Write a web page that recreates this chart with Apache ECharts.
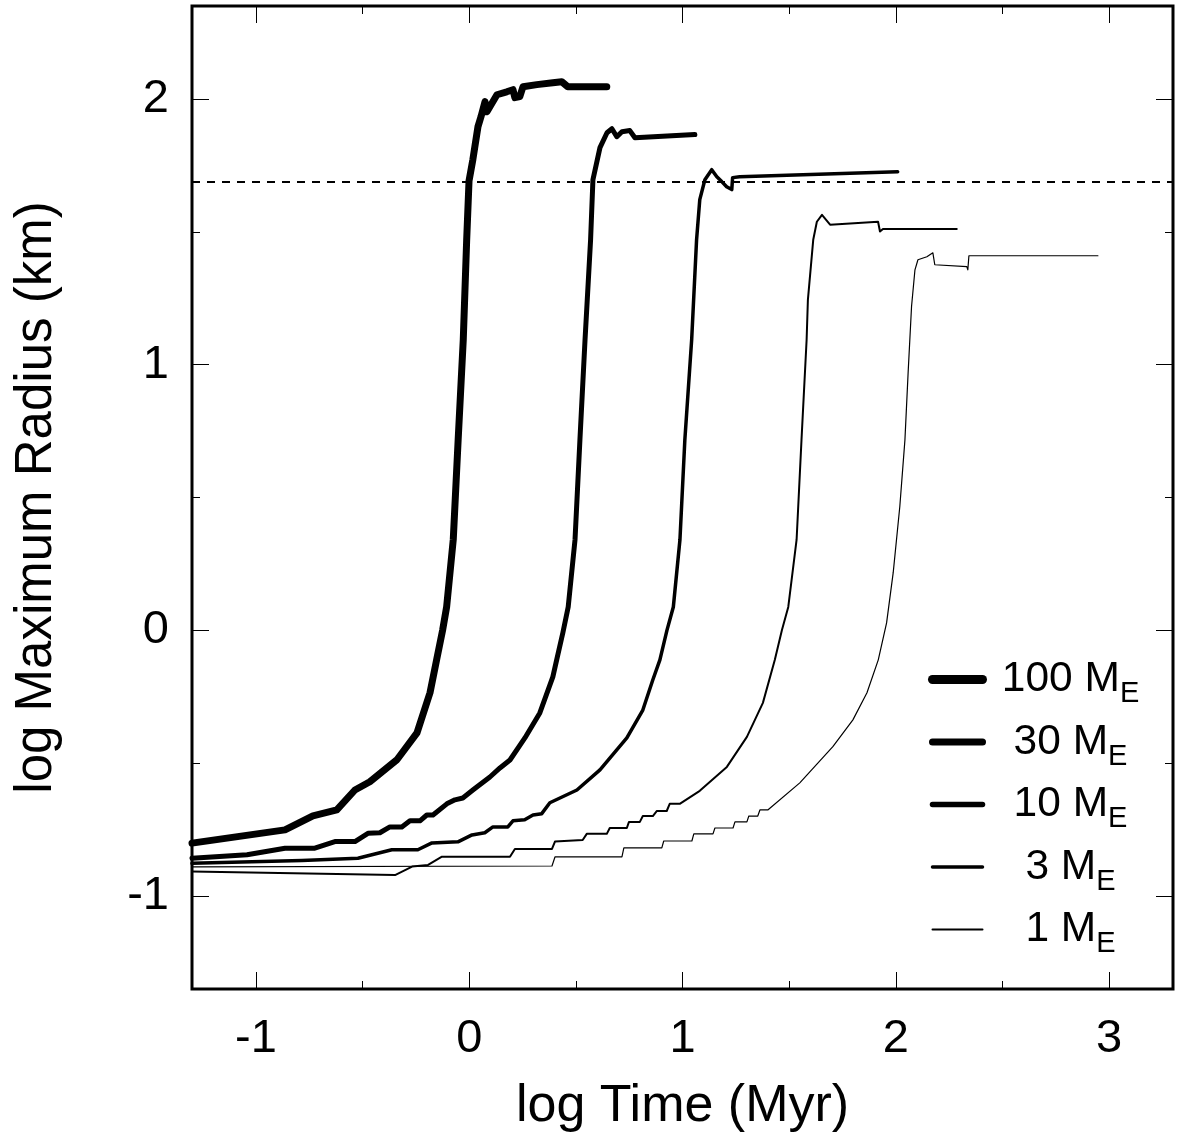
<!DOCTYPE html>
<html>
<head>
<meta charset="utf-8">
<script src="https://cdn.jsdelivr.net/npm/echarts@6/dist/echarts.min.js"></script>
<style>
html,body{margin:0;padding:0;background:#fff;}
#chart{width:1177px;height:1140px;}
</style>
</head>
<body>
<div id="chart"></div>
<script>
// ---- data (log Time [Myr], log Maximum Radius [km]) ----
const massLabels = ['100', '30', '10', '3', '1'];
const xMajorTicks = [-1, 0, 1, 2, 3];
const xMinorTicks = [-0.5, 0.5, 1.5, 2.5];
const yMajorTicks = [-1, 0, 1, 2];
const yMinorTicks = [-0.5, 0.5, 1.5];
const thresholdY = [1.69];

const me100 = [
[-1.300,-0.801],[-0.864,-0.751],[-0.733,-0.698],[-0.621,-0.676],[-0.536,-0.601],[-0.466,-0.570],[-0.339,-0.487],[-0.245,-0.386],[-0.184,-0.235],[-0.153,-0.111],[-0.125,0.000],[-0.106,0.088],[-0.075,0.341],[-0.052,0.717],[-0.028,1.094],[-0.012,1.470],[-0.001,1.692],[0.017,1.772],[0.041,1.896],[0.055,1.933],[0.074,1.990],[0.083,1.952],[0.130,2.016],[0.176,2.027],[0.205,2.035],[0.214,2.005],[0.237,2.009],[0.252,2.046],[0.317,2.054],[0.392,2.061],[0.434,2.065],[0.462,2.046],[0.519,2.046],[0.645,2.046]
];
const me30 = [
[-1.300,-0.858],[-1.042,-0.845],[-0.864,-0.820],[-0.724,-0.820],[-0.630,-0.795],[-0.536,-0.795],[-0.475,-0.764],[-0.419,-0.762],[-0.372,-0.740],[-0.316,-0.740],[-0.278,-0.717],[-0.231,-0.717],[-0.199,-0.695],[-0.170,-0.695],[-0.105,-0.653],[-0.067,-0.638],[-0.030,-0.631],[0.017,-0.601],[0.097,-0.552],[0.144,-0.518],[0.191,-0.488],[0.261,-0.405],[0.331,-0.311],[0.392,-0.175],[0.410,-0.111],[0.439,-0.009],[0.464,0.088],[0.496,0.341],[0.519,0.717],[0.543,1.094],[0.569,1.470],[0.580,1.696],[0.613,1.817],[0.646,1.873],[0.669,1.888],[0.692,1.858],[0.716,1.877],[0.753,1.881],[0.777,1.854],[1.058,1.866]
];
const me10 = [
[-1.300,-0.877],[-0.785,-0.866],[-0.522,-0.858],[-0.363,-0.826],[-0.241,-0.826],[-0.175,-0.800],[-0.053,-0.796],[0.013,-0.770],[0.073,-0.762],[0.111,-0.740],[0.181,-0.740],[0.205,-0.717],[0.260,-0.713],[0.299,-0.695],[0.340,-0.690],[0.378,-0.649],[0.505,-0.601],[0.613,-0.525],[0.739,-0.405],[0.814,-0.300],[0.861,-0.186],[0.894,-0.111],[0.927,0.000],[0.957,0.088],[0.988,0.341],[1.011,0.717],[1.043,1.094],[1.066,1.470],[1.081,1.621],[1.105,1.696],[1.137,1.734],[1.161,1.707],[1.184,1.689],[1.207,1.670],[1.231,1.659],[1.235,1.704],[1.268,1.707],[2.009,1.726]
];
const me3 = [
[-1.300,-0.908],[-0.348,-0.921],[-0.268,-0.889],[-0.193,-0.883],[-0.128,-0.852],[0.191,-0.852],[0.214,-0.823],[0.388,-0.823],[0.402,-0.795],[0.532,-0.789],[0.551,-0.766],[0.645,-0.766],[0.659,-0.744],[0.739,-0.744],[0.749,-0.721],[0.800,-0.721],[0.814,-0.699],[0.861,-0.699],[0.880,-0.680],[0.926,-0.680],[0.940,-0.653],[0.987,-0.653],[1.081,-0.604],[1.208,-0.514],[1.302,-0.401],[1.377,-0.273],[1.433,-0.111],[1.466,0.000],[1.496,0.088],[1.535,0.341],[1.558,0.717],[1.582,1.094],[1.588,1.244],[1.613,1.470],[1.630,1.538],[1.654,1.564],[1.692,1.527],[1.917,1.538],[1.926,1.501],[1.940,1.511],[2.286,1.511]
];
const me1 = [
[-1.300,-0.890],[0.388,-0.887],[0.402,-0.853],[0.716,-0.853],[0.725,-0.819],[0.903,-0.819],[0.912,-0.793],[1.044,-0.793],[1.053,-0.766],[1.143,-0.766],[1.152,-0.744],[1.237,-0.744],[1.246,-0.721],[1.302,-0.721],[1.311,-0.699],[1.353,-0.699],[1.363,-0.676],[1.400,-0.676],[1.550,-0.574],[1.705,-0.438],[1.799,-0.337],[1.865,-0.235],[1.918,-0.111],[1.957,0.028],[1.988,0.217],[2.019,0.466],[2.043,0.717],[2.058,0.970],[2.074,1.219],[2.090,1.357],[2.104,1.395],[2.146,1.406],[2.174,1.421],[2.183,1.376],[2.333,1.369],[2.338,1.357],[2.343,1.410],[2.948,1.410]
];

const seriesData = [me100, me30, me10, me3, me1];
const lineWidths = [7, 5, 3.5, 2, 1.2];
const legendWidths = [9, 7, 5.5, 3.5, 2];

const FONT = '"Liberation Sans", Arial, Helvetica, sans-serif';
const X_MIN = -1.3, X_MAX = 3.3, Y_MIN = -1.35, Y_MAX = 2.35;

function tickAxis(kind, position, values, len, withLabels, extra) {
  const ax = {
    type: 'value', position: position, min: kind === 'x' ? X_MIN : Y_MIN, max: kind === 'x' ? X_MAX : Y_MAX,
    axisLine: {show: false, onZero: false},
    splitLine: {show: false},
    axisTick: {show: true, inside: true, length: len, customValues: values, lineStyle: {color: '#000', width: 1}},
    axisLabel: withLabels ? {show: true, customValues: values, fontSize: 47, fontFamily: FONT, color: '#000', margin: kind === 'x' ? 27 : 23} : {show: false}
  };
  return Object.assign(ax, extra || {});
}

const names = massLabels.map(m => m + ' ME');

const option = {
  animation: false,
  backgroundColor: '#fff',
  grid: {left: 192, right: 4, top: 6, bottom: 151, show: true, borderColor: '#000', borderWidth: 3, backgroundColor: 'transparent'},
  xAxis: [
    tickAxis('x', 'bottom', xMajorTicks, 17, true, {
      name: 'log Time (Myr)', nameLocation: 'middle', nameGap: 92,
      nameTextStyle: {fontSize: 52, fontFamily: FONT, color: '#000'}
    }),
    tickAxis('x', 'bottom', xMinorTicks, 8, false),
    tickAxis('x', 'top', xMajorTicks, 17, false),
    tickAxis('x', 'top', xMinorTicks, 8, false)
  ],
  yAxis: [
    tickAxis('y', 'left', yMajorTicks, 17, true, {
      name: 'log Maximum Radius (km)', nameLocation: 'middle', nameGap: 130, nameRotate: 90,
      nameTextStyle: {fontSize: 51, fontFamily: FONT, color: '#000'}
    }),
    tickAxis('y', 'left', yMinorTicks, 8, false),
    tickAxis('y', 'right', yMajorTicks, 17, false),
    tickAxis('y', 'right', yMinorTicks, 8, false)
  ],
  legend: {
    orient: 'vertical', left: 928, top: 658, padding: 0, itemGap: 12,
    itemWidth: 50, itemHeight: 20, itemStyle: {opacity: 0},
    data: names.map((n, i) => ({name: n, lineStyle: {width: legendWidths[i], color: '#000'}})),
    formatter: function (name) { return '{m|' + name.replace(' ME', '') + ' M}{s|E}'; },
    textStyle: {
      width: 166, fontFamily: FONT, fontSize: 42.5, color: '#000',
      rich: {
        m: {fontSize: 42.5, fontFamily: FONT, color: '#000', align: 'center'},
        s: {fontSize: 29, fontFamily: FONT, color: '#000', align: 'center', padding: [29, 0, 0, 0]}
      }
    }
  },
  series: seriesData.map((d, i) => ({
    name: names[i], type: 'line', data: d, xAxisIndex: 0, yAxisIndex: 0,
    symbol: 'none', showSymbol: false, smooth: false, sampling: null,
    lineStyle: {color: '#000', width: lineWidths[i], join: 'round', cap: 'round'},
    itemStyle: {color: '#000'},
    z: 3,
    markLine: i === 0 ? {
      silent: true, symbol: ['none', 'none'], label: {show: false},
      lineStyle: {color: '#000', width: 2, type: [8, 7]},
      data: thresholdY.map(v => ({yAxis: v}))
    } : undefined
  }))
};

const chart = echarts.init(document.getElementById('chart'), null, {renderer: 'canvas'});
chart.setOption(option);
</script>
</body>
</html>
